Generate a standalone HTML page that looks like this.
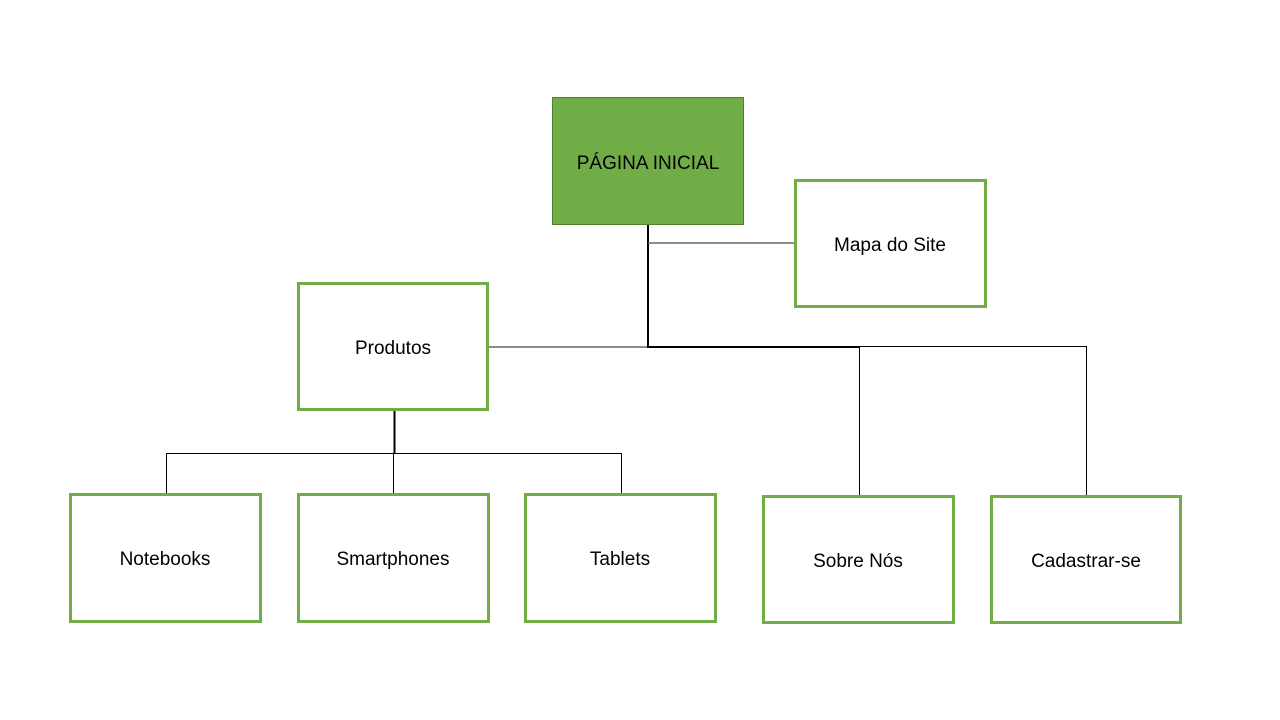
<!DOCTYPE html>
<html><head><meta charset="utf-8"><style>
html,body{margin:0;padding:0;background:#fff;}
svg{display:block;}
text{font-family:"Liberation Sans",sans-serif;font-size:19px;fill:#000;text-anchor:middle;dominant-baseline:middle;}
</style></head><body>
<svg width="1280" height="720" viewBox="0 0 1280 720" xmlns="http://www.w3.org/2000/svg">
<g fill="none" stroke-linecap="butt">
<line x1="648" y1="225" x2="648" y2="347" stroke="#000" stroke-width="2"/>
<line x1="648" y1="243" x2="794" y2="243" stroke="#666" stroke-width="1.5"/>
<line x1="489" y1="347" x2="648" y2="347" stroke="#666" stroke-width="1.5"/>
<line x1="647" y1="347" x2="859" y2="347" stroke="#000" stroke-width="2"/>
<line x1="859" y1="346.5" x2="1086" y2="346.5" stroke="#000" stroke-width="1"/>
<line x1="859.5" y1="347" x2="859.5" y2="495" stroke="#000" stroke-width="1"/>
<line x1="1086.5" y1="346" x2="1086.5" y2="495" stroke="#000" stroke-width="1"/>
<line x1="394.5" y1="411" x2="394.5" y2="453" stroke="#000" stroke-width="2"/>
<line x1="166" y1="453.5" x2="621" y2="453.5" stroke="#000" stroke-width="1"/>
<line x1="166.5" y1="453" x2="166.5" y2="493" stroke="#000" stroke-width="1"/>
<line x1="393.5" y1="453" x2="393.5" y2="493" stroke="#000" stroke-width="1"/>
<line x1="621.5" y1="453" x2="621.5" y2="493" stroke="#000" stroke-width="1"/>
</g>
<rect x="552.5" y="97.5" width="191" height="127" fill="#70ad47" stroke="#507e32" stroke-width="1"/>
<g fill="#fff" stroke="#70ad47" stroke-width="3">
<rect x="795.5" y="180.5" width="190" height="126"/>
<rect x="298.5" y="283.5" width="189" height="126"/>
<rect x="70.5" y="494.5" width="190" height="127"/>
<rect x="298.5" y="494.5" width="190" height="127"/>
<rect x="525.5" y="494.5" width="190" height="127"/>
<rect x="763.5" y="496.5" width="190" height="126"/>
<rect x="991.5" y="496.5" width="189" height="126"/>
</g>
<text x="648" y="164">PÁGINA INICIAL</text>
<text x="890" y="246">Mapa do Site</text>
<text x="393" y="349">Produtos</text>
<text x="165" y="560">Notebooks</text>
<text x="393" y="560">Smartphones</text>
<text x="620" y="560">Tablets</text>
<text x="858" y="562">Sobre Nós</text>
<text x="1086" y="562">Cadastrar-se</text>
</svg>
</body></html>
